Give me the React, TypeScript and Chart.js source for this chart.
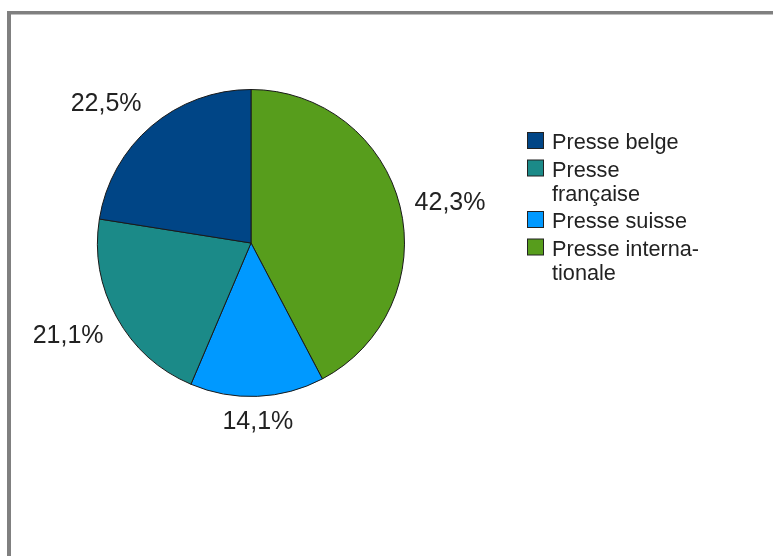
import React, { useEffect, useRef } from "react";
import { Chart, registerables } from "chart.js";

Chart.register(...registerables);

// Data (drawing order: clockwise from 12 o'clock)
const categories = ["Presse internationale", "Presse suisse", "Presse française", "Presse belge"];
const values = [42.3, 14.1, 21.1, 22.5];
const colors = ["#579d1c", "#0099ff", "#1b8a88", "#004586"];
const legendLines = [["Presse interna-", "tionale"], ["Presse suisse"], ["Presse", "française"], ["Presse belge"]];
const valueLabels = values.map((v) => v.toFixed(1).replace(".", ",") + "%");

const FONT = '"Liberation Sans", Arial, sans-serif';

const decorPlugin = {
  id: "decor",
  beforeDraw(chart: any) {
    const ctx = chart.ctx;
    ctx.save();
    ctx.fillStyle = "#ffffff";
    ctx.fillRect(0, 0, chart.width, chart.height);
    ctx.fillStyle = "#808080";
    ctx.fillRect(7, 11, chart.width, 3.5);
    ctx.fillRect(7, 11, 4, chart.height);
    ctx.restore();
  },
  afterDraw(chart: any) {
    const ctx = chart.ctx;
    ctx.save();
    // value labels
    ctx.font = "25px " + FONT;
    ctx.fillStyle = "#222222";
    ctx.textAlign = "left";
    ctx.textBaseline = "alphabetic";
    const meta = chart.getDatasetMeta(0);
    meta.data.forEach((arc: any, i: number) => {
      const p = arc.getProps(["x", "y", "startAngle", "endAngle", "outerRadius"], true);
      const mid = (p.startAngle + p.endAngle) / 2;
      const c = Math.cos(mid);
      const s = Math.sin(mid);
      const R = p.outerRadius + 15;
      const ax = p.x + c * R;
      const ay = p.y + s * R;
      const text = valueLabels[i];
      const m = ctx.measureText(text);
      const w = m.width;
      const asc = m.actualBoundingBoxAscent;
      const desc = m.actualBoundingBoxDescent;
      const h = asc + desc;
      const t = 0.383;
      const hx = c > t ? 1 : c < -t ? -1 : 0;
      const hy = s > t ? 1 : s < -t ? -1 : 0;
      const cx = ax + (hx * w) / 2;
      const cy = ay + (hy * h) / 2;
      ctx.fillText(text, cx - w / 2, cy - h / 2 + asc);
    });
    // legend (reverse of drawing order)
    ctx.font = "21.7px " + FONT;
    let baseline = 149;
    for (let i = values.length - 1; i >= 0; i--) {
      ctx.fillStyle = colors[i];
      ctx.fillRect(527.5, baseline - 16.5, 16, 16);
      ctx.strokeStyle = "#222222";
      ctx.lineWidth = 1;
      ctx.strokeRect(527.5, baseline - 16.5, 16, 16);
      ctx.fillStyle = "#222222";
      const lines = legendLines[i];
      lines.forEach((ln, k) => {
        ctx.fillText(ln, 552, baseline + k * 24);
      });
      baseline += (lines.length - 1) * 24 + 27.5;
    }
    ctx.restore();
  },
};

export default function App() {
  const ref = useRef<HTMLCanvasElement>(null);
  useEffect(() => {
    document.body.style.margin = "0";
    const chart = new Chart(ref.current as HTMLCanvasElement, {
      type: "pie",
      data: {
        labels: categories,
        datasets: [
          {
            data: values,
            backgroundColor: colors,
            borderColor: "#1a1a1a",
            borderWidth: 1,
          },
        ],
      },
      options: {
        responsive: true,
        maintainAspectRatio: false,
        animation: false,
        layout: { padding: { left: 96, top: 89, right: 367, bottom: 159 } },
        plugins: {
          legend: { display: false },
          title: { display: false },
          tooltip: { enabled: false },
        },
      },
      plugins: [decorPlugin],
    });
    return () => chart.destroy();
  }, []);
  return (
    <div style={{ width: 773, height: 556, position: "relative" }}>
      <canvas ref={ref} />
    </div>
  );
}
